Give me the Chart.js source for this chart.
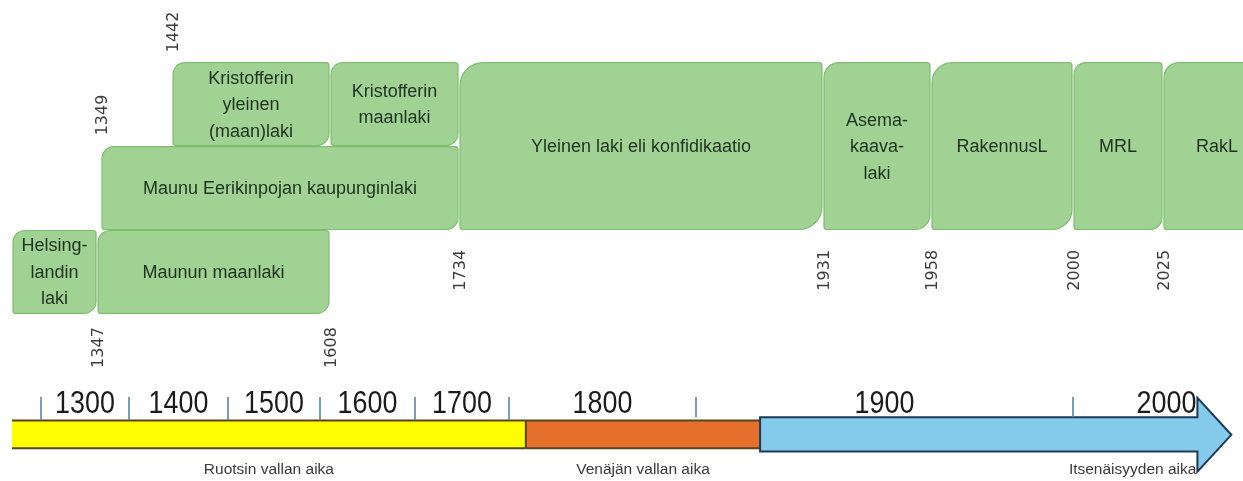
<!DOCTYPE html>
<html>
<head>
<meta charset="utf-8">
<script src="https://cdn.jsdelivr.net/npm/chart.js@4.4.1/dist/chart.umd.min.js"></script>
<style>
  html, body { margin: 0; padding: 0; background: #fff; }
  #wrap { width: 1243px; height: 481px; }
</style>
</head>
<body>
<div id="wrap"><canvas id="timeline"></canvas></div>
<script>
// laws shown as boxes (start / end year, rows they cover)
const lawNames = [
  "Helsing-\nlandin\nlaki",
  "Maunun maanlaki",
  "Maunu Eerikinpojan kaupunginlaki",
  "Kristofferin\nyleinen\n(maan)laki",
  "Kristofferin\nmaanlaki",
  "Yleinen laki eli konfidikaatio",
  "Asema-\nkaava-\nlaki",
  "RakennusL",
  "MRL",
  "RakL"
];
const lawStart = [1320, 1347, 1349, 1442, 1608, 1734, 1931, 1958, 2000, 2025];
const lawEnd   = [1347, 1608, 1734, 1608, 1734, 1931, 1958, 2000, 2025, 2055];
const lawFromRow = [2, 2, 1, 0, 0, 0, 0, 0, 0, 0];
const lawToRow   = [3, 3, 2, 1, 1, 2, 2, 2, 2, 2];

// year markers written beside the boxes
const markerYears = [1442, 1349, 1347, 1608, 1734, 1931, 1958, 2000, 2025];

// bottom time line
const centuries = [1300, 1400, 1500, 1600, 1700, 1800, 1900, 2000];
const eraNames = ["Ruotsin vallan aika", "Venäjän vallan aika", "Itsenäisyyden aika"];
const eraStart = [1267, 1809, 1917];
const eraEnd   = [1809, 1917, 2042];

// ---- layout ----
// the picture is not to scale, so both x axes are piecewise linear (year -> px of a 1243 wide canvas)
const SPAN = 1243;
const scaleKnots = {
  x: [[1320, 12], [1347, 97], [1349, 101], [1442, 172], [1608, 330], [1734, 459],
      [1931, 823], [1958, 931], [2000, 1073], [2025, 1163]],
  xEra: [[1300, 41], [1400, 129], [1500, 228], [1600, 320], [1700, 415],
         [1800, 509], [1900, 696], [2000, 1073]]
};
const markerRow = [-0.36, 0.63, 3.4, 3.4, 2.48, 2.48, 2.48, 2.48, 2.48];
const eraColors = ['#ffff00', '#e5702b', '#84caeb'];

class PiecewiseScale extends Chart.LinearScale {
  getPixelForValue(value) {
    const k = scaleKnots[this.id];
    let i = 0;
    while (i < k.length - 2 && value > k[i + 1][0]) i++;
    const [v0, p0] = k[i], [v1, p1] = k[i + 1];
    const p = p0 + (value - v0) * (p1 - p0) / (v1 - v0);
    return this.left + p / SPAN * this.width;
  }
  getValueForPixel(pixel) {
    const k = scaleKnots[this.id];
    const p = (pixel - this.left) / this.width * SPAN;
    let i = 0;
    while (i < k.length - 2 && p > k[i + 1][1]) i++;
    const [v0, p0] = k[i], [v1, p1] = k[i + 1];
    return v0 + (p - p0) * (v1 - v0) / (p1 - p0);
  }
}
PiecewiseScale.id = 'piecewise';
PiecewiseScale.defaults = Chart.LinearScale.defaults;
Chart.register(PiecewiseScale);

function boxPath(ctx, x, y, w, h, rBig, rSmall) {
  ctx.beginPath();
  ctx.moveTo(x + rBig, y);
  ctx.lineTo(x + w - rSmall, y);
  ctx.arcTo(x + w, y, x + w, y + rSmall, rSmall);
  ctx.lineTo(x + w, y + h - rBig);
  ctx.arcTo(x + w, y + h, x + w - rBig, y + h, rBig);
  ctx.lineTo(x + rSmall, y + h);
  ctx.arcTo(x, y + h, x, y + h - rSmall, rSmall);
  ctx.lineTo(x, y + rBig);
  ctx.arcTo(x, y, x + rBig, y, rBig);
  ctx.closePath();
}

function wideText(ctx, text, x, y, sx) {
  ctx.save();
  ctx.translate(x, y);
  ctx.scale(sx, 1);
  ctx.fillText(text, 0, 0);
  ctx.restore();
}

const timelinePlugin = {
  id: 'timeline',
  afterDraw(chart) {
    const ctx = chart.ctx;
    const x = chart.scales.x, xe = chart.scales.xEra, y = chart.scales.y;
    ctx.save();

    // law boxes
    lawNames.forEach((name, i) => {
      const left = x.getPixelForValue(lawStart[i]) + 1;
      const right = x.getPixelForValue(lawEnd[i]) - 1;
      const top = y.getPixelForValue(lawFromRow[i]) + 0.5;
      const bottom = y.getPixelForValue(lawToRow[i]) - 0.5;
      const w = right - left, h = bottom - top;
      const r = Math.round(0.14 * Math.min(w, h));
      boxPath(ctx, left, top, w, h, r, 3);
      ctx.fillStyle = '#a0d294';
      ctx.fill();
      ctx.strokeStyle = '#7fbd70';
      ctx.lineWidth = 1.2;
      ctx.stroke();

      const lines = name.split('\n');
      const lh = 26.5;
      ctx.fillStyle = '#1f301f';
      ctx.font = '18px "Liberation Sans", Arial, sans-serif';
      ctx.textAlign = 'center';
      ctx.textBaseline = 'middle';
      const cy = (top + bottom) / 2 - (lines.length - 1) * lh / 2 + 1;
      lines.forEach((ln, j) => ctx.fillText(ln, (left + right) / 2, cy + j * lh));
    });

    // rotated year markers
    ctx.fillStyle = '#3c3c3c';
    ctx.font = '16px "DejaVu Sans", sans-serif';
    markerYears.forEach((yr, i) => {
      ctx.save();
      ctx.translate(x.getPixelForValue(yr) + 2, y.getPixelForValue(markerRow[i]));
      ctx.rotate(-Math.PI / 2);
      ctx.textAlign = 'center';
      ctx.textBaseline = 'middle';
      ctx.fillText(String(yr), 0, 0);
      ctx.restore();
    });

    // era bar
    const barTop = y.getPixelForValue(4.27), barBot = y.getPixelForValue(4.6);
    for (let i = 0; i < 2; i++) {
      const l = xe.getPixelForValue(eraStart[i]), r = xe.getPixelForValue(eraEnd[i]);
      ctx.fillStyle = eraColors[i];
      ctx.fillRect(l, barTop, r - l, barBot - barTop);
      ctx.strokeStyle = '#5a4321';
      ctx.lineWidth = 2;
      ctx.beginPath();
      ctx.moveTo(l, barTop); ctx.lineTo(r, barTop);
      ctx.moveTo(l, barBot); ctx.lineTo(r, barBot);
      if (i > 0) { ctx.moveTo(l, barTop); ctx.lineTo(l, barBot); }
      ctx.stroke();
    }
    // arrow for the last era
    const aL = xe.getPixelForValue(eraStart[2]);
    const aTip = xe.getPixelForValue(eraEnd[2]);
    const aBase = xe.getPixelForValue(eraEnd[2] - 9);
    const bTop = y.getPixelForValue(4.23), bBot = y.getPixelForValue(4.64);
    const hTop = y.getPixelForValue(4.0), hBot = y.getPixelForValue(4.88);
    ctx.beginPath();
    ctx.moveTo(aL, bTop);
    ctx.lineTo(aBase, bTop);
    ctx.lineTo(aBase, hTop);
    ctx.lineTo(aTip, (hTop + hBot) / 2);
    ctx.lineTo(aBase, hBot);
    ctx.lineTo(aBase, bBot);
    ctx.lineTo(aL, bBot);
    ctx.closePath();
    ctx.fillStyle = eraColors[2];
    ctx.fill();
    ctx.strokeStyle = '#1f3a57';
    ctx.lineWidth = 2;
    ctx.stroke();

    // century ticks and labels
    const tickTop = y.getPixelForValue(3.99);
    ctx.strokeStyle = '#4d7d9b';
    ctx.lineWidth = 1.5;
    centuries.forEach(c => {
      const px = xe.getPixelForValue(c);
      const end = c >= 1900 ? bTop : barTop;
      ctx.beginPath();
      ctx.moveTo(px, tickTop);
      ctx.lineTo(px, end);
      ctx.stroke();
    });
    ctx.fillStyle = '#1b1b1b';
    ctx.font = '32px "Liberation Sans", Arial, sans-serif';
    ctx.textBaseline = 'middle';
    const labY = y.getPixelForValue(4.08);
    centuries.forEach((c, i) => {
      const a = xe.getPixelForValue(c);
      if (i < centuries.length - 1) {
        ctx.textAlign = 'center';
        wideText(ctx, String(c), (a + xe.getPixelForValue(centuries[i + 1])) / 2, labY, 0.84);
      } else {
        ctx.textAlign = 'right';
        wideText(ctx, String(c), aBase - 1, labY, 0.84);
      }
    });

    // era names
    ctx.fillStyle = '#3a3a3a';
    ctx.font = '15.5px "Liberation Sans", Arial, sans-serif';
    const eraY = y.getPixelForValue(4.86);
    eraNames.forEach((n, i) => {
      const l = xe.getPixelForValue(eraStart[i]), r = xe.getPixelForValue(eraEnd[i]);
      if (i < eraNames.length - 1) {
        ctx.textAlign = 'center';
        ctx.fillText(n, (l + r) / 2, eraY);
      } else {
        ctx.textAlign = 'right';
        ctx.fillText(n, aBase - 1, eraY);
      }
    });

    ctx.restore();
  }
};

const chart = new Chart(document.getElementById('timeline'), {
  type: 'scatter',
  data: { datasets: [] },
  options: {
    responsive: true,
    maintainAspectRatio: false,
    animation: false,
    layout: { padding: 0 },
    plugins: { legend: { display: false }, tooltip: { enabled: false } },
    scales: {
      x: { type: 'piecewise', min: 1267, max: 2060, display: false },
      xEra: { type: 'piecewise', axis: 'x', min: 1267, max: 2060, display: false },
      y: { type: 'linear', reverse: true, min: -0.74, max: 4.99, display: false }
    }
  },
  plugins: [timelinePlugin]
});
</script>
</body>
</html>
